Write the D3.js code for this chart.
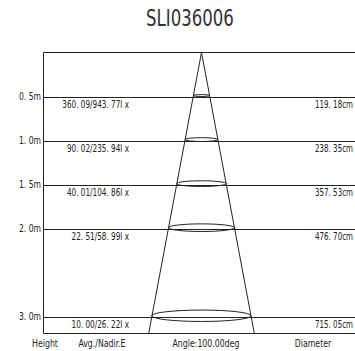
<!DOCTYPE html>
<html>
<head>
<meta charset="utf-8">
<script src="https://cdn.jsdelivr.net/npm/d3@7"></script>
<style>
  body { margin: 0; background: #fff; }
  svg text { font-family: "Liberation Sans Narrow", "DejaVu Sans Condensed", "DejaVu Sans", sans-serif; font-stretch: condensed; fill: #222; }
</style>
</head>
<body>
<div id="chart"></div>
<script>
// photometric cone data
var title = "SLI036006";
var heights = [0.5, 1.0, 1.5, 2.0, 3.0];
var avgLux = [360.09, 90.02, 40.01, 22.51, 10.00];
var nadirLux = [943.77, 235.94, 104.86, 58.99, 26.22];
var diameters = [119.18, 238.35, 357.53, 476.70, 715.05];
var beamAngle = 100.00;
var footerLabels = ["Height", "Avg./Nadir.E", "Angle:" + beamAngle.toFixed(2) + "deg", "Diameter"];

var w = 355, h = 351;
var frameLeft = 43.5, frameTop = 52.5, frameBottom = 333.5, frameRight = 356;
var cx = 201.5;

var svg = d3.select("#chart").append("svg")
    .attr("width", w)
    .attr("height", h);

// vertical: metres below the luminaire
var y = d3.scaleLinear().domain([0, 3.19]).range([frameTop, frameBottom]);
// horizontal: metres of cone radius
var r = d3.scaleLinear().domain([0, 1]).range([0, 13.9]);

var fmt = d3.format(".2f");
function spaced(v) { return fmt(v).replace(".", ". "); }

// the original face is narrower than what we have, so squeeze the glyphs
function squeeze(sel, k) {
    sel.each(function () {
        var len = this.getComputedTextLength();
        d3.select(this)
            .attr("textLength", len * k)
            .attr("lengthAdjust", "spacingAndGlyphs");
    });
}

svg.append("text")
    .attr("x", 190)
    .attr("y", 26)
    .attr("text-anchor", "middle")
    .style("font-size", "23px")
    .style("fill", "#333")
    .text(title)
    .call(squeeze, 0.8);

// frame
svg.append("path")
    .attr("d", "M" + frameRight + "," + frameTop + "H" + frameLeft + "V" + frameBottom + "H" + frameRight)
    .attr("fill", "none")
    .attr("stroke", "#222")
    .attr("stroke-width", 1);

// height rows
var row = svg.selectAll("g.row")
    .data(heights)
    .enter().append("g")
    .attr("class", "row");

row.append("line")
    .attr("x1", frameLeft)
    .attr("x2", frameRight)
    .attr("y1", function (d) { return Math.round(y(d)) + 0.5; })
    .attr("y2", function (d) { return Math.round(y(d)) + 0.5; })
    .attr("stroke", "#222");

row.append("text")
    .attr("x", 41)
    .attr("y", function (d) { return y(d) + 3.5; })
    .attr("text-anchor", "end")
    .style("font-size", "10px")
    .text(function (d) { return d.toFixed(1).replace(".", ". ") + "m"; })
    .call(squeeze, 0.85);

row.append("text")
    .attr("x", 129)
    .attr("y", function (d) { return y(d) + 11; })
    .attr("text-anchor", "end")
    .style("font-size", "10px")
    .text(function (d, i) { return spaced(avgLux[i]) + "/" + spaced(nadirLux[i]) + "l x"; })
    .call(squeeze, 0.81);

row.append("text")
    .attr("x", 353)
    .attr("y", function (d) { return y(d) + 11; })
    .attr("text-anchor", "end")
    .style("font-size", "10px")
    .text(function (d, i) { return spaced(diameters[i]) + "cm"; })
    .call(squeeze, 0.79);

// beam cone
var tanHalf = Math.tan(beamAngle / 2 * Math.PI / 180);
var hMax = y.invert(frameBottom);
svg.append("path")
    .attr("d", "M" + (cx - r(hMax * tanHalf)) + "," + frameBottom +
        "L" + cx + "," + frameTop +
        "L" + (cx + r(hMax * tanHalf)) + "," + frameBottom)
    .attr("fill", "none")
    .attr("stroke", "#222");

svg.selectAll("ellipse.spot")
    .data(heights)
    .enter().append("ellipse")
    .attr("class", "spot")
    .attr("cx", cx)
    .attr("cy", function (d) { return y(d) - 1; })
    .attr("rx", function (d, i) { return r(diameters[i] / 200); })
    .attr("ry", function (d, i) { return r(diameters[i] / 200) * 0.115; })
    .attr("fill", "none")
    .attr("stroke", "#222");

// footer captions
var footerX = [45, 102, 206, 313];
svg.selectAll("text.footer")
    .data(footerLabels)
    .enter().append("text")
    .attr("class", "footer")
    .attr("x", function (d, i) { return footerX[i]; })
    .attr("y", 347)
    .attr("text-anchor", "middle")
    .style("font-size", "11px")
    .text(function (d) { return d; })
    .call(squeeze, 0.79);
</script>
</body>
</html>
